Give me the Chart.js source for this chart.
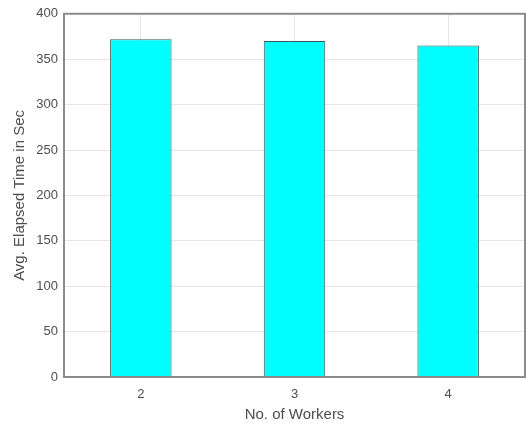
<!DOCTYPE html>
<html>
<head>
<meta charset="utf-8">
<script src="https://cdn.jsdelivr.net/npm/chart.js@4"></script>
<style>
  html, body { margin: 0; padding: 0; background: #fff; }
  #wrap { width: 526px; height: 425px; }
</style>
</head>
<body>
<div id="wrap"><canvas id="chart" width="526" height="425"></canvas></div>
<script>
// datos
const workers = ["2", "3", "4"];
const elapsedSec = [372, 370, 365];
const yMin = 0;
const yMax = 400;
const yStep = 50;

const AXIS_COLOR = "#8c8c8c";
const TEXT_COLOR = "#4d4d4d";
const FONT = "'Liberation Sans', Arial, sans-serif";

// caja completa alrededor del area (estilo matlab)
const boxPlugin = {
  id: "box",
  afterDraw(chart) {
    const a = chart.chartArea;
    const ctx = chart.ctx;
    ctx.save();
    ctx.strokeStyle = AXIS_COLOR;
    ctx.lineWidth = 2;
    ctx.strokeRect(a.left, a.top, a.right - a.left, a.bottom - a.top);
    ctx.restore();
  }
};

new Chart(document.getElementById("chart"), {
  type: "bar",
  data: {
    labels: workers,
    datasets: [{
      data: elapsedSec,
      backgroundColor: "#00ffff",
      borderColor: "#3a5a5a",
      borderWidth: 1,
      barPercentage: 0.4,
      categoryPercentage: 1
    }]
  },
  options: {
    responsive: false,
    animation: false,
    layout: { padding: { top: 12, right: 1, left: 0, bottom: 0 } },
    plugins: {
      legend: { display: false },
      tooltip: { enabled: false }
    },
    scales: {
      x: {
        grid: { offset: false, color: "#e6e6e6", drawTicks: false },
        border: { display: false },
        ticks: { color: TEXT_COLOR, font: { family: FONT, size: 13 }, padding: 10 },
        title: { display: true, text: "No. of Workers", color: TEXT_COLOR, font: { family: FONT, size: 15 }, padding: { top: 4, bottom: 1 } },
        afterFit(s) { s.height = 48; }
      },
      y: {
        min: yMin,
        max: yMax,
        grid: { color: "#e6e6e6", drawTicks: false },
        border: { display: false },
        ticks: { stepSize: yStep, color: TEXT_COLOR, font: { family: FONT, size: 13 }, padding: 6 },
        title: { display: true, text: "Avg. Elapsed Time in Sec", color: TEXT_COLOR, font: { family: FONT, size: 15 }, padding: { top: 11, bottom: 0 } },
        afterFit(s) { s.width = 64; }
      }
    }
  },
  plugins: [boxPlugin]
});
</script>
</body>
</html>
